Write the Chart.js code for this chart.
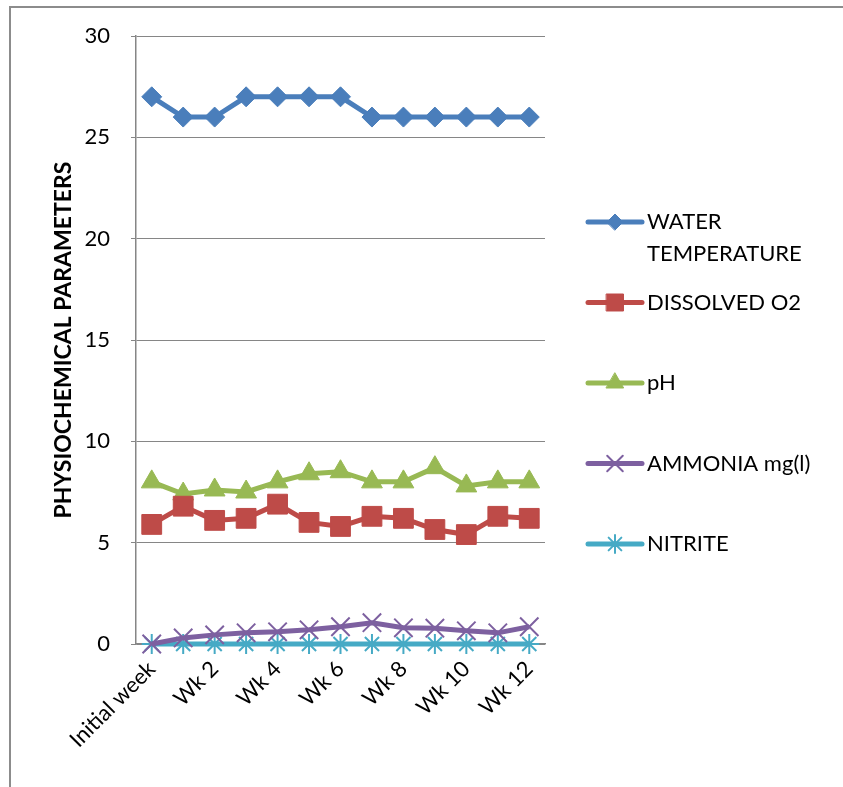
<!DOCTYPE html>
<html>
<head>
<meta charset="utf-8">
<script src="https://cdn.jsdelivr.net/npm/chart.js@4.4.1/dist/chart.umd.min.js"></script>
<style>
  body { margin: 0; background: #fff; }
  #wrap { position: relative; width: 843px; height: 787px; overflow: hidden; }
  #frame {
    position: absolute; left: 9px; top: 6px; width: 900px; height: 900px;
    border-top: 2px solid #8c8c8c; border-left: 2px solid #8c8c8c;
  }
  #chart { position: absolute; left: 0; top: 0; }
</style>
</head>
<body>
<div id="wrap">
  <div id="frame"></div>
  <canvas id="chart" width="843" height="787"></canvas>
</div>
<script>
const weeks = ["Initial week", "Wk 1", "Wk 2", "Wk 3", "Wk 4", "Wk 5", "Wk 6",
  "Wk 7", "Wk 8", "Wk 9", "Wk 10", "Wk 11", "Wk 12"];

const waterTemp = [27, 26, 26, 27, 27, 27, 27, 26, 26, 26, 26, 26, 26];
const dissolvedO2 = [5.9, 6.8, 6.1, 6.2, 6.9, 6.0, 5.8, 6.3, 6.2, 5.65, 5.4, 6.3, 6.2];
const pH = [8.0, 7.4, 7.6, 7.5, 8.0, 8.4, 8.5, 8.0, 8.0, 8.7, 7.8, 8.0, 8.0];
const ammonia = [0, 0.3, 0.45, 0.55, 0.6, 0.7, 0.85, 1.05, 0.8, 0.78, 0.65, 0.55, 0.85];
const nitrite = [0, 0, 0, 0, 0, 0, 0, 0, 0, 0, 0, 0, 0];

const seriesNames = ["WATER TEMPERATURE", "DISSOLVED O2", "pH", "AMMONIA mg(l)", "NITRITE"];
const yTicks = [0, 5, 10, 15, 20, 25, 30];

const FONT = "Lato, 'Noto Sans', sans-serif";

function series(label, data, color, style, radius, extra) {
  return Object.assign({
    label: label,
    data: data,
    borderColor: color,
    backgroundColor: color,
    pointBackgroundColor: color,
    pointBorderColor: color,
    borderWidth: 5,
    pointStyle: style,
    pointRadius: radius,
    pointBorderWidth: 1,
    tension: 0,
    clip: 20,
  }, extra || {});
}

// legend drawn on the right, like the spreadsheet one
const sideLegend = {
  id: "sideLegend",
  afterDraw(chart) {
    const ctx = chart.ctx;
    const area = chart.chartArea;
    const x0 = area.right + 43;
    const x1 = x0 + 54;
    const tx = x1 + 5;
    let y = area.top + 186;
    ctx.save();
    ctx.font = "22px " + FONT;
    ctx.textBaseline = "middle";
    chart.data.datasets.forEach((ds) => {
      ctx.strokeStyle = ds.borderColor;
      ctx.fillStyle = ds.borderColor;
      ctx.lineWidth = 5;
      ctx.lineCap = "round";
      ctx.beginPath();
      ctx.moveTo(x0, y);
      ctx.lineTo(x1, y);
      ctx.stroke();
      ctx.lineWidth = ds.legendBorder || 1;
      Chart.helpers.drawPoint(ctx, {
        pointStyle: ds.pointStyle,
        radius: ds.legendRadius,
        rotation: 0,
        borderWidth: ds.legendBorder || 1,
      }, (x0 + x1) / 2, y);

      // wrap long names
      const words = ds.label.split(" ");
      const lines = [];
      let cur = "";
      words.forEach((w) => {
        const test = cur ? cur + " " + w : w;
        if (ctx.measureText(test).width > 180 && cur) {
          lines.push(cur);
          cur = w;
        } else {
          cur = test;
        }
      });
      lines.push(cur);
      ctx.fillStyle = "#000";
      lines.forEach((ln, i) => ctx.fillText(ln, tx, y + i * 32));
      y += 80.5;
    });
    ctx.restore();
  },
};

new Chart(document.getElementById("chart"), {
  type: "line",
  data: {
    labels: weeks,
    datasets: [
      series(seriesNames[0], waterTemp, "#4a7ebb", "rectRot", 10, { legendRadius: 8 }),
      series(seriesNames[1], dissolvedO2, "#be4b48", "rect", 14, { legendRadius: 12 }),
      series(seriesNames[2], pH, "#98b954", "triangle", 12, { legendRadius: 10 }),
      series(seriesNames[3], ammonia, "#7d60a0", "crossRot", 13,
        { pointBorderWidth: 2, legendRadius: 11, legendBorder: 2 }),
      series(seriesNames[4], nitrite, "#46aac5", "star", 10,
        { pointBorderWidth: 2, legendRadius: 9, legendBorder: 2 }),
    ],
  },
  options: {
    responsive: false,
    animation: false,
    layout: { padding: { left: 50, right: 298, top: 36, bottom: 0 } },
    plugins: {
      legend: { display: false },
      tooltip: { enabled: false },
    },
    scales: {
      x: {
        offset: true,
        grid: { display: false },
        border: { display: true, color: "#868686", width: 1.5 },
        ticks: {
          autoSkip: false,
          minRotation: 45,
          maxRotation: 45,
          color: "#000",
          font: { family: FONT, size: 22 },
          padding: 4,
          callback: (v, i) => (i % 2 === 0 ? weeks[i] : ""),
        },
        afterFit: (scale) => { scale.height = 143; },
      },
      y: {
        min: 0,
        max: 30,
        afterBuildTicks: (scale) => { scale.ticks = yTicks.map((v) => ({ value: v })); },
        grid: { color: "#868686", lineWidth: 1, drawTicks: true, tickLength: 5 },
        border: { display: true, color: "#868686", width: 1.5 },
        ticks: {
          color: "#000",
          font: { family: FONT, size: 22 },
          padding: 21,
        },
        title: {
          display: true,
          text: "PHYSIOCHEMICAL PARAMETERS",
          color: "#000",
          font: { family: FONT, size: 23, weight: "bold" },
          padding: 0,
        },
        afterFit: (scale) => { scale.width = 86; },
      },
    },
  },
  plugins: [sideLegend],
});
</script>
</body>
</html>
